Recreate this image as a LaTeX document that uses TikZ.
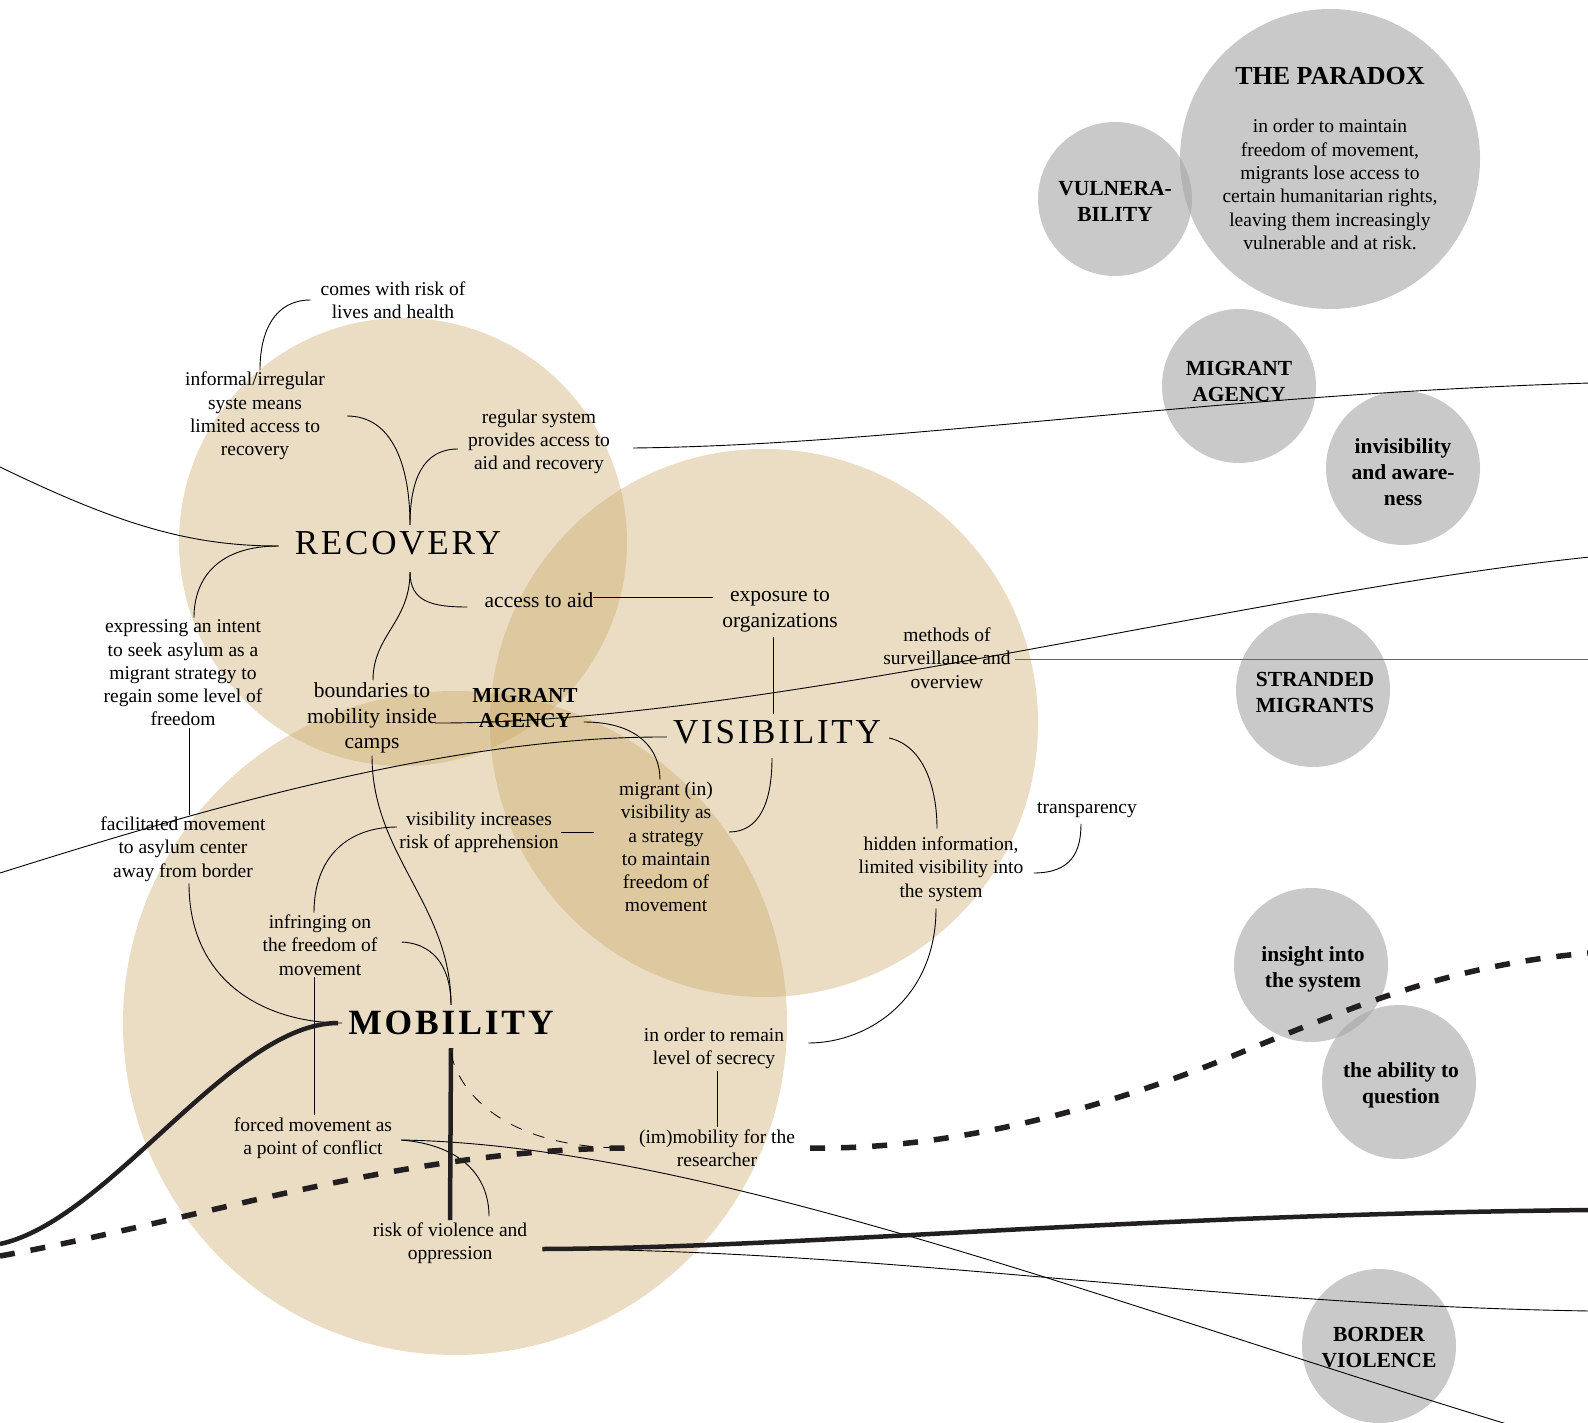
\documentclass[tikz,border=0pt]{standalone}
\usepackage{fontspec}
\setmainfont{Liberation Serif}
\newfontfamily\spacedfont[LetterSpace=8]{Liberation Serif}
\usetikzlibrary{calc}
\definecolor{tanc}{RGB}{202,166,100}
\definecolor{greyc}{RGB}{168,168,168}
\definecolor{ink}{RGB}{35,31,32}
\tikzset{
  lbl/.style={align=center, inner sep=2pt, text=black, font=\fontsize{19.5}{23.3}\selectfont},
  lblb/.style={lbl, font=\fontsize{21.5}{25.8}\selectfont},
  lblbold/.style={lbl, font=\bfseries\fontsize{21.3}{25.5}\selectfont},
  gtext/.style={lbl, font=\bfseries\fontsize{21.5}{26}\selectfont},
  bigl/.style={inner sep=6pt, text=black, font=\spacedfont\fontsize{35}{40}\selectfont},
  bigb/.style={inner sep=6pt, text=black, font=\spacedfont\bfseries\fontsize{35.5}{40}\selectfont},
  gcirc/.style={circle, fill=greyc, fill opacity=0.62, minimum size=154pt, inner sep=0pt},
  tanfill/.style={fill=tanc, fill opacity=0.38},
  conn/.style={draw=black, line width=0.9pt},
  greyconn/.style={draw=black!60, line width=1pt},
  heavy/.style={draw=ink, line width=4.5pt},
  heavydash/.style={draw=ink, line width=5.5pt, dash pattern=on 15pt off 16pt},
  thindash/.style={draw=black, line width=0.8pt, dash pattern=on 12pt off 12pt},
}
\begin{document}
\begin{tikzpicture}[x=1pt, y=-1pt]
\useasboundingbox (0,0) rectangle (1588,1423);
\fill[white] (0,0) rectangle (1588,1423);

% tan circles
\fill[tanfill] (403,542) circle[radius=224pt];
\fill[tanfill] (764,723) circle[radius=274pt];
\fill[tanfill] (455,1023) circle[radius=332pt];

% grey circles
\node[gcirc, minimum size=300pt] (paradoxc) at (1330,159) {};
\node[gcirc] (vulnc) at (1115,199) {};
\node[gcirc] (gagencyc) at (1239,386) {};
\node[gcirc] (invisc) at (1403,468) {};
\node[gcirc] (strandedc) at (1313,690) {};
\node[gcirc] (insightc) at (1311,965) {};
\node[gcirc] (abilityc) at (1399,1082) {};
\node[gcirc] (borderc) at (1379,1346) {};
\node[gtext] (vuln) at (1115,201) {VULNERA-\\BILITY};
\node[gtext] (gagency) at (1239,381) {MIGRANT\\AGENCY};
\node[gtext] (invis) at (1403,472) {invisibility\\and aware-\\ness};
\node[gtext] (stranded) at (1315,692) {STRANDED\\MIGRANTS};
\node[gtext] (insight) at (1313,969) {insight into\\the system};
\node[gtext] (ability) at (1401,1085) {the ability to\\question};
\node[gtext] (border) at (1379,1348) {BORDER\\VIOLENCE};
\node[lbl, font=\bfseries\fontsize{26}{30}\selectfont] (ptitle) at (1330,76) {THE PARADOX};
\node[lbl] (pbody) at (1330,184.5) {in order to maintain\\freedom of movement,\\migrants lose access to\\certain humanitarian rights,\\leaving them increasingly\\vulnerable and at risk.};

% text nodes
\node[lbl] (comes) at (393,300) {comes with risk of\\lives and health};
\node[lbl] (informal) at (255,416) {informal/irregular\\syste means\\limited access to\\recovery};
\node[lbl] (regular) at (539,442) {regular system\\provides access to\\aid and recovery};
\node[bigl] (recovery) at (398,543) {RECOVERY};
\node[lblb] (access) at (539,600) {access to aid};
\node[lblb] (exposure) at (780,611) {exposure to\\organizations};
\node[lbl] (methods) at (947,658) {methods of\\surveillance and\\overview};
\node[lbl] (expressing) at (183,673) {expressing an intent\\to seek asylum as a\\migrant strategy to\\regain some level of\\freedom};
\node[lblb] (boundaries) at (372,718) {boundaries to\\mobility inside\\camps};
\node[lblbold] (agency) at (525,708) {MIGRANT\\AGENCY};
\node[bigl] (visibility) at (777,732) {VISIBILITY};
\node[lbl] (strategy) at (666,847) {migrant (in)\\visibility as\\a strategy\\to maintain\\freedom of\\movement};
\node[lbl] (visincr) at (479,832) {visibility increases\\risk of apprehension};
\node[lbl] (facilitated) at (183,849) {facilitated movement\\to asylum center\\away from border};
\node[lbl] (transparency) at (1087,810) {transparency};
\node[lbl] (hidden) at (941,869) {hidden information,\\limited visibility into\\the system};
\node[lbl] (infringing) at (320,945) {infringing on\\the freedom of\\movement};
\node[bigb] (mobility) at (451,1023) {MOBILITY};
\node[lbl] (inorder) at (714,1048) {in order to remain\\level of secrecy};
\node[lbl] (forced) at (313,1138) {forced movement as\\a point of conflict};
\node[lbl] (imm) at (717,1148) {(im)mobility for the\\researcher};
\node[lbl] (risk) at (450,1243) {risk of violence and\\oppression};

% free ends at the edges
\coordinate (eL1) at (0,467);
\coordinate (eL2) at (0,873);
\coordinate (eL3) at (0,1244);
\coordinate (eL4) at (0,1256);
\coordinate (eR) at (1590,0);
\coordinate (eR1) at (1590,383);
\coordinate (eR2) at (1590,557);
\coordinate (eR3) at (1590,953);
\coordinate (eR4) at (1590,1210);
\coordinate (eR5) at (1590,1311);
\coordinate (eB1) at (1510,1425);

% thin connectors
\draw[conn] ([xshift=5pt]informal.north) .. controls +(0,-40) and +(-35,0) .. ([xshift=-8pt]comes.west);
\draw[conn] ([xshift=20pt]informal.east) .. controls +(45,0) and +(0,-60) .. ([xshift=12pt]recovery.north);
\draw[conn] ([xshift=-8pt,yshift=-7pt]regular.west) .. controls +(-35,0) and +(0,-45) .. ([xshift=12pt]recovery.north);
\draw[conn] (eL1) .. controls (120,525) and (190,546) .. ([xshift=-10pt,yshift=-3pt]recovery.west);
\draw[conn] ([xshift=-10pt,yshift=-3pt]recovery.west) .. controls +(-60,0) and +(0,-40) .. ([xshift=11pt]expressing.north);
\draw[conn] ([xshift=12pt,yshift=-11pt]recovery.south) .. controls +(0,30) and +(-35,0) .. ([xshift=-15pt,yshift=-7pt]access.west);
\draw[conn] ([xshift=12pt,yshift=-11pt]recovery.south) .. controls +(0,50) and +(0,-45) .. ([xshift=1pt]boundaries.north);
\draw[conn] ([xshift=-3pt,yshift=3pt]access.east) -- ($(exposure.west |- access.east)+(-7,-3)$);
\draw[conn] ($(exposure.south)+(-7,3)$) -- ($(exposure.south |- visibility.north)+(-7,0)$);
\draw[greyconn] ($(methods.east)+(2,1)$) -- ($(methods.east -| eR)+(0,1)$);
\draw[conn] ([xshift=21pt,yshift=-6pt]regular.east) .. controls (900,445) and (1200,395) .. (eR1);
\draw[conn] ([xshift=-4pt,yshift=-5pt]boundaries.east) .. controls (760,724) and (1250,592) .. (eR2);
\draw[conn] (eL2) .. controls (200,810) and (450,736) .. ([yshift=-5pt]visibility.west);
\draw[conn] ([xshift=4pt,yshift=-14pt]agency.east) .. controls +(55,0) and +(0,-30) .. ([xshift=-6pt]strategy.north);
\draw[conn] ([xshift=-5pt,yshift=-8pt]visibility.south) .. controls +(0,45) and +(30,0) .. ([xshift=14pt,yshift=15pt]strategy.east);
\draw[conn] ([yshift=0pt]visincr.east) -- ($(strategy.west |- visincr.east)+(-23,0)$);
\draw[conn] ([xshift=2pt,yshift=-6pt]visibility.east) .. controls +(35,8) and +(0,-40) .. ([xshift=-4pt,yshift=6pt]hidden.north);
\draw[conn] ([xshift=-5pt,yshift=-5pt]hidden.south) .. controls +(0,90) and +(60,0) .. ([xshift=22pt,yshift=5pt]inorder.east);
\draw[conn] ([xshift=8pt,yshift=-4pt]hidden.east) .. controls +(38,0) and +(0,28) .. ([xshift=-6pt,yshift=-4pt]transparency.south);
\draw[conn] ($(inorder.south)+(3,0)$) -- ($(inorder.south |- imm.north)+(3,0)$);
\draw[conn] ($(expressing.south)+(6,0)$) -- ($(expressing.south |- facilitated.north)+(6,0)$);
\draw[conn] ([xshift=6pt]facilitated.south) .. controls +(0,100) and +(-75,0) .. (mobility.west);
\draw[conn] ([xshift=-6pt]infringing.north) .. controls +(0,-55) and +(-50,0) .. ([yshift=5pt]visincr.west);
\draw[conn] ([xshift=22pt,yshift=3pt]infringing.east) .. controls +(38,2) and +(0,-30) .. (mobility.north);
\draw[conn] (boundaries.south) .. controls +(0,100) and +(0,-100) .. (mobility.north);
\draw[conn] ($(infringing.south)+(-6,0)$) -- ($(infringing.south |- forced.north)+(-6,0)$);
\draw[conn] ([xshift=7pt,yshift=-2pt]forced.east) .. controls +(60,5) and +(0,-40) .. ([xshift=39pt,yshift=4pt]risk.north);
\draw[conn] ([xshift=7pt,yshift=-2pt]forced.east) .. controls (700,1145) and (1100,1300) .. (eB1);
\draw[conn] ([xshift=13pt,yshift=-6pt]risk.east) .. controls (900,1250) and (1200,1305) .. (eR5);

% heavy connectors
\draw[heavy] ([xshift=-4pt]mobility.west) .. controls +(-107,0) and (110,1220) .. (eL3);
\draw[heavy] ([yshift=-7pt]mobility.south) -- (risk.north);
\draw[heavy] ([xshift=13pt,yshift=-6pt]risk.east) .. controls (800,1248) and (1120,1215) .. (eR4);
\draw[thindash] ([yshift=-12pt]mobility.south) .. controls +(8,40) and +(-120,0) .. ([xshift=-11pt]imm.west);
\draw[heavydash] (eL4) .. controls (200,1220) and (400,1150) .. ([xshift=-11pt]imm.west);
\draw[heavydash] ([xshift=13pt]imm.east) .. controls (950,1150) and (1100,1110) .. (1230,1057)
   .. controls (1360,1004) and (1450,965) .. (eR3);
\end{tikzpicture}
\end{document}
